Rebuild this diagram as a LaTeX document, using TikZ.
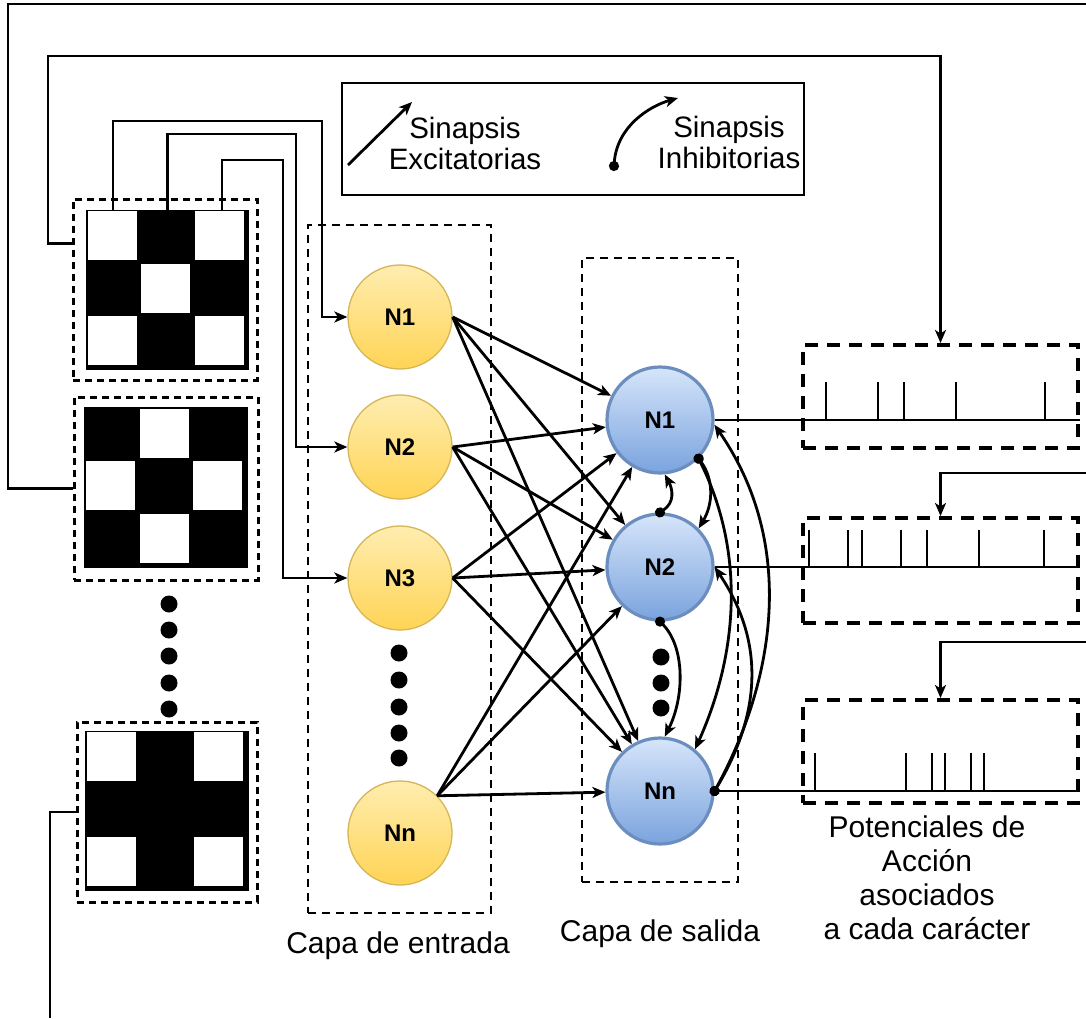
\documentclass[tikz,border=0pt]{standalone}
\usepackage{fontspec}
\setmainfont{Liberation Sans}
\usetikzlibrary{arrows.meta,calc}

\definecolor{inFill}{HTML}{FFEDB0}
\definecolor{inShade}{HTML}{FFD455}
\definecolor{inLine}{HTML}{D6B656}
\definecolor{outFill}{HTML}{D6E5FA}
\definecolor{outShade}{HTML}{7AA3DE}
\definecolor{outLine}{HTML}{6C8EBF}

\tikzset{
  wire/.style={line width=2.8pt},
  arr/.style={wire, -{Stealth[length=13pt,width=11pt,inset=3.5pt]}},
  inh/.style={wire, {Circle[length=10pt]}-{Stealth[length=13pt,width=11pt,inset=3.5pt]}, shorten <=-5pt},
  neuronlabel/.style={font=\fontsize{24}{24}\selectfont\bfseries},
  inneuron/.style={circle, minimum size=104pt, inner sep=0pt, draw=inLine, line width=1.3pt,
    top color=inFill, bottom color=inShade, neuronlabel},
  outneuron/.style={circle, minimum size=106pt, inner sep=0pt, draw=outLine, line width=3.2pt,
    top color=outFill, bottom color=outShade, neuronlabel},
  patbox/.style={draw, line width=3pt, dash pattern=on 7pt off 5pt, inner sep=0pt},
  gridbox/.style={draw, fill=black, line width=3.5pt, minimum width=160pt, minimum height=157pt, inner sep=0pt},
  layerbox/.style={draw, line width=2.6pt, dash pattern=on 8pt off 6pt, inner sep=0pt},
  spikebox/.style={draw, line width=4pt, dash pattern=on 13pt off 9pt, minimum width=275pt, inner sep=0pt},
  spike/.style={line width=1.4pt},
  legendbox/.style={draw, line width=1.5pt, inner sep=0pt, minimum width=462pt, minimum height=112pt},
  caption/.style={font=\fontsize{30}{34}\selectfont, align=center, inner sep=0pt},
  legtext/.style={font=\fontsize{29.5}{31.5}\selectfont, align=center, inner sep=0pt, anchor=north},
  bigdot/.style={circle, fill=black, minimum size=17pt, inner sep=0pt},
}

% white cells of a 3x3 character grid: #1 = grid node, #2 = list of row/column
\newcommand\whitecells[2]{%
  \foreach \r/\c in {#2}{%
    \fill[white] ($(#1.north west)+({(\c-0.5)*160/3},{(\r-0.5)*157/3})$)
      +(-24.5,-24.5) rectangle +(24.5,24.5);
  }%
}

\begin{document}
\begin{tikzpicture}[x=1pt,y=-1pt]
\useasboundingbox (0,0) rectangle (1086,1018);
\fill[white] (0,0) rectangle (1086,1018);

% layer frames
\node[layerbox, minimum width=183pt, minimum height=688pt] (Lin) at (399.5,569) {};
\node[layerbox, minimum width=156pt, minimum height=624pt] (Lout) at (660,570) {};

% legend
\node[legendbox] (leg) at (573,139) {};
\coordinate (exA) at (348,165);
\coordinate (exB) at (412,102);
\draw[arr] (exA) -- (exB);
\node[legtext] (exT) at (465,116.5) {Sinapsis\\Excitatorias};
\coordinate (ihA) at (614,166);
\coordinate (ihB) at (678,98);
\draw[inh] (ihA) .. controls +(3,-40) and +(-28,8) .. (ihB);
\node[legtext] (ihT) at (729,115.5) {Sinapsis\\Inhibitorias};

% character patterns
\node[patbox, minimum width=184pt, minimum height=181pt] (p1) at (165,289.5) {};
\node[gridbox] (g1) at (167.5,290) {};
\whitecells{g1}{1/1,1/3,2/2,3/1,3/3}
\node[patbox, minimum width=184pt, minimum height=183pt] (p2) at (166,488.5) {};
\node[gridbox] (g2) at (166,487.5) {};
\whitecells{g2}{1/2,2/1,2/3,3/2}
\node[patbox, minimum width=180pt, minimum height=180pt] (p3) at (167,812) {};
\node[gridbox] (g3) at (167,811) {};
\whitecells{g3}{1/1,1/3,3/1,3/3}

% ellipsis dots
\foreach \y [count=\k] in {604,630,656,683,709} \node[bigdot] (pd\k) at (169,\y) {};
\foreach \y [count=\k] in {653,680,707,733,758} \node[bigdot] (id\k) at (399,\y) {};
\foreach \y [count=\k] in {657,683,708} \node[bigdot] (od\k) at (661,\y) {};

% neurons
\node[inneuron] (iA) at (400,317) {N1};
\node[inneuron] (iB) at (400,447) {N2};
\node[inneuron] (iC) at (400,578) {N3};
\node[inneuron] (iN) at (400,833) {Nn};
\node[outneuron] (oA) at (660,420) {N1};
\node[outneuron] (oB) at (660,567) {N2};
\node[outneuron] (oN) at (660,791) {Nn};

% spike trains
\node[spikebox, minimum height=103pt] (sA) at (940.5,396.5) {};
\node[spikebox, minimum height=105pt] (sB) at (940.5,570.5) {};
\node[spikebox, minimum height=103pt] (sC) at (940.5,751.5) {};
\draw[spike] (oA.east) -- (oA.east -| sA.east);
\draw[spike] (oB.east) -- (oB.east -| sB.east);
\draw[spike] (oN.east) -- (oN.east -| sC.east);
\foreach \x in {826,878,904,956,1045} \draw[spike] (\x,420) -- ++(0,-38);
\foreach \x in {809,848,862,901,927,979,1044} \draw[spike] (\x,567) -- ++(0,-37);
\foreach \x in {815,906,932,945,971,984} \draw[spike] (\x,791) -- ++(0,-38);

% pixel wires into the input layer
\draw[arr] ($(g1.north west)!1/6!(g1.north east)$) |- (322,121) |- (iA.west);
\draw[arr] ($(g1.north west)!3/6!(g1.north east)$) |- (296,134) |- (iB.west);
\draw[arr] ($(g1.north west)!5/6!(g1.north east)$) |- (283,160) |- (iC.west);

% character wires to the spike trains
\draw[arr] ($(p1.north west)!0.25!(p1.south west)$) -| (48,56) -| (sA.north);
\coordinate (edgeT) at (1086,4);
\draw[wire] (p2.west) -| (8,4) -- (edgeT);
\coordinate (edgeB) at (50,1018);
\draw[wire] (p3.west) -| (edgeB);
\coordinate (edgeR1) at (1086,473);
\draw[arr] (edgeR1) -| (sB.north);
\coordinate (edgeR2) at (1086,642);
\draw[arr] (edgeR2) -| (sC.north);

% excitatory synapses
\foreach \s in {iA,iB,iC}{\foreach \t in {oA,oB,oN}{\draw[arr] (\s.east) -- (\t);}}
\foreach \t in {oA,oB,oN}{\draw[arr] (iN.45) -- (\t);}

% inhibitory synapses
\draw[inh] (oA.-45) .. controls +(45,90) and +(45,-100) .. (oN.50);
\draw[inh] (oA.-45) .. controls +(15,20) and +(15,-25) .. (oB.45);
\draw[inh] (oN.east) .. controls +(45,-75) and +(52,77) .. (oB.east);
\draw[inh] (oN.east) .. controls +(60,-110) and +(83,120) .. (oA.-5);
\draw[inh] (oB.north) .. controls +(15,-10) and +(8,15) .. (oA.-85);
\draw[inh] (oB.south) .. controls +(25,25) and +(20,-40) .. (oN.85);

% captions
\node[caption, anchor=base] (capIn) at (398,953) {Capa de entrada};
\node[caption, anchor=base] (capOut) at (660,941) {Capa de salida};
\node[caption, anchor=north] (capSp) at (927,816) {Potenciales de\\Acción\\asociados\\a cada carácter};
\end{tikzpicture}
\end{document}
